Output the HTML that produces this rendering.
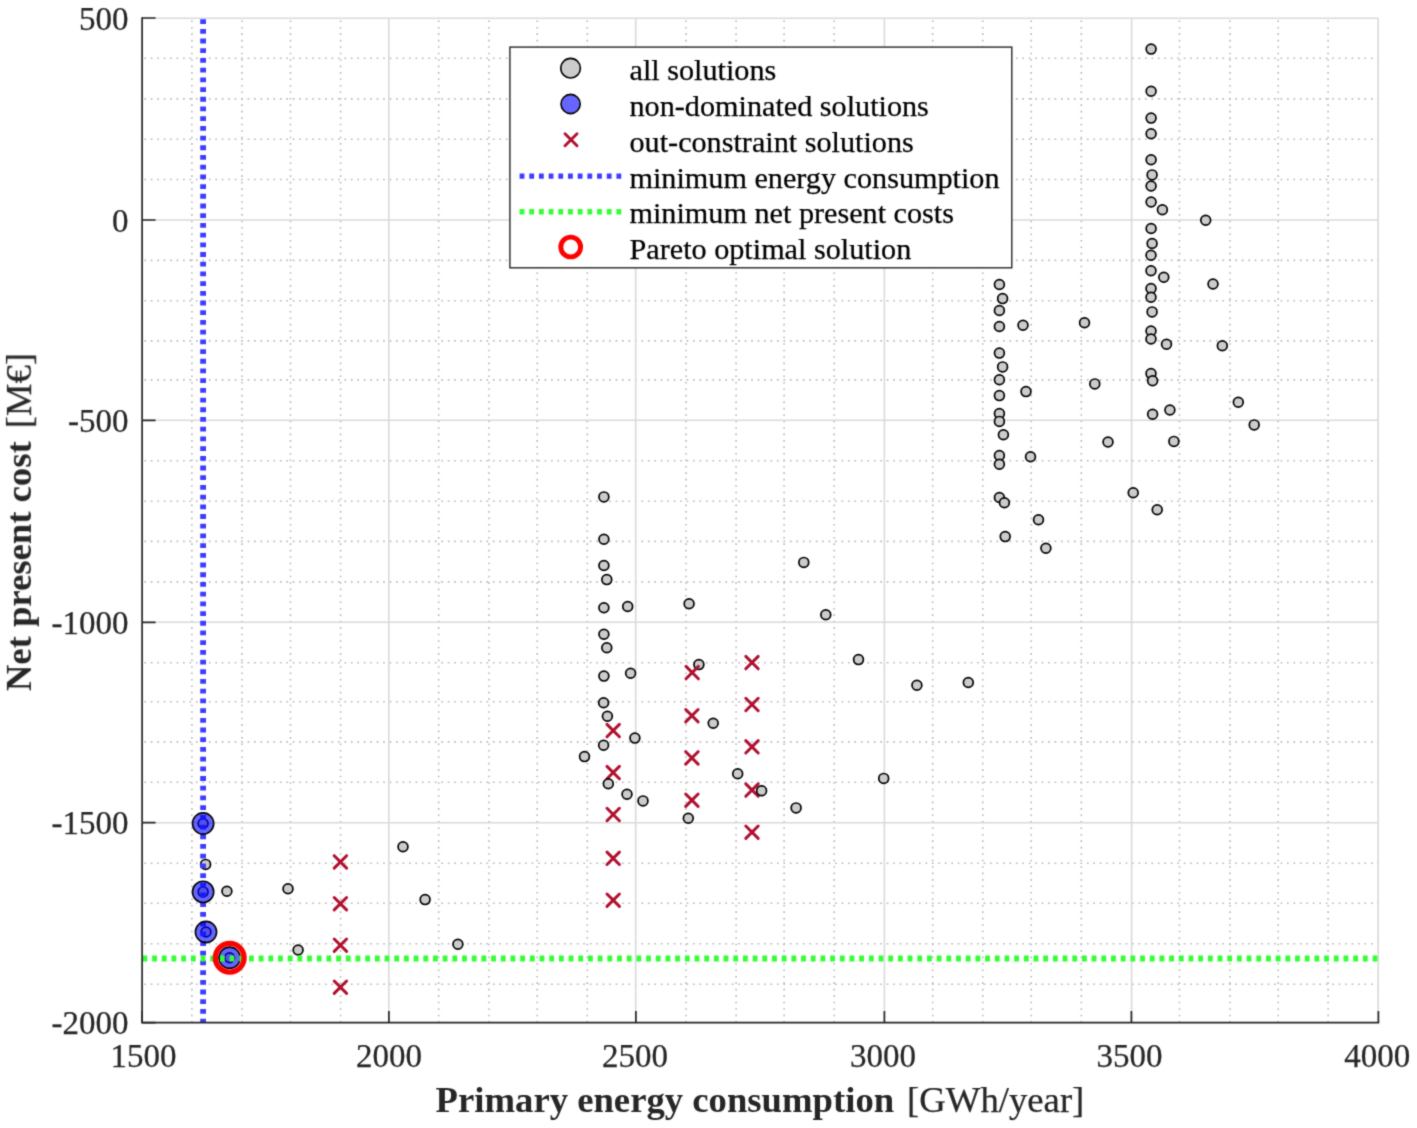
<!DOCTYPE html><html><head><meta charset="utf-8"><style>
html,body{margin:0;padding:0;background:#fff;}
body{width:1417px;height:1128px;overflow:hidden;position:relative;}
svg{position:absolute;left:0;top:0;}
text{font-family:"Liberation Serif",serif;fill:#262626;stroke:#262626;stroke-width:0.25px;}
text.b{stroke-width:0;}
text.lg{fill:#000;stroke:#000;}
</style></head><body>
<svg width="1417" height="1128" viewBox="0 0 1417 1128">
<defs><filter id="soft" filterUnits="userSpaceOnUse" x="0" y="0" width="1417" height="1128" color-interpolation-filters="sRGB"><feConvolveMatrix order="3" kernelMatrix="0.03 0.1 0.03 0.1 0.48 0.1 0.03 0.1 0.03" edgeMode="duplicate"/></filter></defs>
<g filter="url(#soft)"><rect x="0" y="0" width="1417" height="1128" fill="#fff"/>
<path d="M191.90 1022.70V18.00M242.00 1022.70V18.00M290.50 1022.70V18.00M340.60 1022.70V18.00M438.70 1022.70V18.00M489.00 1022.70V18.00M537.20 1022.70V18.00M587.30 1022.70V18.00M686.00 1022.70V18.00M736.10 1022.70V18.00M784.10 1022.70V18.00M834.20 1022.70V18.00M932.70 1022.70V18.00M982.80 1022.70V18.00M1031.20 1022.70V18.00M1081.30 1022.70V18.00M1179.50 1022.70V18.00M1230.00 1022.70V18.00M1278.20 1022.70V18.00M1328.10 1022.70V18.00" stroke="#b8b8b8" stroke-width="1.6" stroke-dasharray="1.6 4.856" fill="none"/>
<path d="M142.10 58.20H1378.40M142.10 98.90H1378.40M142.10 139.30H1378.40M142.10 179.50H1378.40M142.10 260.40H1378.40M142.10 300.80H1378.40M142.10 340.90H1378.40M142.10 379.90H1378.40M142.10 460.80H1378.40M142.10 501.20H1378.40M142.10 541.40H1378.40M142.10 581.90H1378.40M142.10 662.80H1378.40M142.10 701.80H1378.40M142.10 741.90H1378.40M142.10 782.30H1378.40M142.10 863.20H1378.40M142.10 903.20H1378.40M142.10 943.80H1378.40M142.10 984.30H1378.40" stroke="#b8b8b8" stroke-width="1.6" stroke-dasharray="1.6 4.856" stroke-dashoffset="4.216" fill="none"/>
<path d="M388.80 1022.70V18.00M635.70 1022.70V18.00M884.40 1022.70V18.00M1131.60 1022.70V18.00M1378.20 1022.70V18.00M142.10 18.20H1378.40M142.10 220.00H1378.40M142.10 420.30H1378.40M142.10 622.30H1378.40M142.10 822.70H1378.40" stroke="#dadada" stroke-width="1.6" fill="none"/>
<circle cx="205.6" cy="864.4" r="4.90" fill="#cccccc" stroke="#000" stroke-width="1.70"/>
<circle cx="226.9" cy="891.2" r="4.90" fill="#cccccc" stroke="#000" stroke-width="1.70"/>
<circle cx="288.0" cy="888.8" r="4.90" fill="#cccccc" stroke="#000" stroke-width="1.70"/>
<circle cx="298.1" cy="950.0" r="4.90" fill="#cccccc" stroke="#000" stroke-width="1.70"/>
<circle cx="403.0" cy="846.8" r="4.90" fill="#cccccc" stroke="#000" stroke-width="1.70"/>
<circle cx="425.1" cy="899.6" r="4.90" fill="#cccccc" stroke="#000" stroke-width="1.70"/>
<circle cx="457.9" cy="944.2" r="4.90" fill="#cccccc" stroke="#000" stroke-width="1.70"/>
<circle cx="203.1" cy="823.5" r="4.90" fill="#cccccc" stroke="#000" stroke-width="1.70"/>
<circle cx="203.1" cy="891.9" r="4.90" fill="#cccccc" stroke="#000" stroke-width="1.70"/>
<circle cx="206.0" cy="932.0" r="4.90" fill="#cccccc" stroke="#000" stroke-width="1.70"/>
<circle cx="229.6" cy="957.7" r="4.90" fill="#cccccc" stroke="#000" stroke-width="1.70"/>
<circle cx="603.9" cy="496.9" r="4.90" fill="#cccccc" stroke="#000" stroke-width="1.70"/>
<circle cx="603.9" cy="539.2" r="4.90" fill="#cccccc" stroke="#000" stroke-width="1.70"/>
<circle cx="603.9" cy="565.5" r="4.90" fill="#cccccc" stroke="#000" stroke-width="1.70"/>
<circle cx="606.8" cy="579.6" r="4.90" fill="#cccccc" stroke="#000" stroke-width="1.70"/>
<circle cx="603.9" cy="607.8" r="4.90" fill="#cccccc" stroke="#000" stroke-width="1.70"/>
<circle cx="627.7" cy="606.5" r="4.90" fill="#cccccc" stroke="#000" stroke-width="1.70"/>
<circle cx="689.1" cy="603.7" r="4.90" fill="#cccccc" stroke="#000" stroke-width="1.70"/>
<circle cx="603.9" cy="634.2" r="4.90" fill="#cccccc" stroke="#000" stroke-width="1.70"/>
<circle cx="606.8" cy="647.8" r="4.90" fill="#cccccc" stroke="#000" stroke-width="1.70"/>
<circle cx="698.9" cy="664.6" r="4.90" fill="#cccccc" stroke="#000" stroke-width="1.70"/>
<circle cx="603.9" cy="676.1" r="4.90" fill="#cccccc" stroke="#000" stroke-width="1.70"/>
<circle cx="630.6" cy="673.2" r="4.90" fill="#cccccc" stroke="#000" stroke-width="1.70"/>
<circle cx="603.6" cy="702.8" r="4.90" fill="#cccccc" stroke="#000" stroke-width="1.70"/>
<circle cx="607.4" cy="716.2" r="4.90" fill="#cccccc" stroke="#000" stroke-width="1.70"/>
<circle cx="634.9" cy="738.1" r="4.90" fill="#cccccc" stroke="#000" stroke-width="1.70"/>
<circle cx="603.6" cy="745.3" r="4.90" fill="#cccccc" stroke="#000" stroke-width="1.70"/>
<circle cx="584.5" cy="756.6" r="4.90" fill="#cccccc" stroke="#000" stroke-width="1.70"/>
<circle cx="627.0" cy="794.3" r="4.90" fill="#cccccc" stroke="#000" stroke-width="1.70"/>
<circle cx="643.0" cy="800.9" r="4.90" fill="#cccccc" stroke="#000" stroke-width="1.70"/>
<circle cx="688.3" cy="818.3" r="4.90" fill="#cccccc" stroke="#000" stroke-width="1.70"/>
<circle cx="713.2" cy="723.2" r="4.90" fill="#cccccc" stroke="#000" stroke-width="1.70"/>
<circle cx="737.7" cy="773.8" r="4.90" fill="#cccccc" stroke="#000" stroke-width="1.70"/>
<circle cx="796.1" cy="807.9" r="4.90" fill="#cccccc" stroke="#000" stroke-width="1.70"/>
<circle cx="803.8" cy="562.4" r="4.90" fill="#cccccc" stroke="#000" stroke-width="1.70"/>
<circle cx="825.8" cy="614.7" r="4.90" fill="#cccccc" stroke="#000" stroke-width="1.70"/>
<circle cx="858.5" cy="659.6" r="4.90" fill="#cccccc" stroke="#000" stroke-width="1.70"/>
<circle cx="916.9" cy="685.3" r="4.90" fill="#cccccc" stroke="#000" stroke-width="1.70"/>
<circle cx="968.3" cy="682.5" r="4.90" fill="#cccccc" stroke="#000" stroke-width="1.70"/>
<circle cx="883.7" cy="778.4" r="4.90" fill="#cccccc" stroke="#000" stroke-width="1.70"/>
<circle cx="999.4" cy="284.5" r="4.90" fill="#cccccc" stroke="#000" stroke-width="1.70"/>
<circle cx="1002.6" cy="298.6" r="4.90" fill="#cccccc" stroke="#000" stroke-width="1.70"/>
<circle cx="999.4" cy="310.5" r="4.90" fill="#cccccc" stroke="#000" stroke-width="1.70"/>
<circle cx="999.4" cy="326.5" r="4.90" fill="#cccccc" stroke="#000" stroke-width="1.70"/>
<circle cx="1023.0" cy="325.2" r="4.90" fill="#cccccc" stroke="#000" stroke-width="1.70"/>
<circle cx="1084.5" cy="322.8" r="4.90" fill="#cccccc" stroke="#000" stroke-width="1.70"/>
<circle cx="999.4" cy="353.1" r="4.90" fill="#cccccc" stroke="#000" stroke-width="1.70"/>
<circle cx="1002.6" cy="366.9" r="4.90" fill="#cccccc" stroke="#000" stroke-width="1.70"/>
<circle cx="999.4" cy="379.7" r="4.90" fill="#cccccc" stroke="#000" stroke-width="1.70"/>
<circle cx="1094.8" cy="383.9" r="4.90" fill="#cccccc" stroke="#000" stroke-width="1.70"/>
<circle cx="1026.0" cy="391.6" r="4.90" fill="#cccccc" stroke="#000" stroke-width="1.70"/>
<circle cx="999.4" cy="395.6" r="4.90" fill="#cccccc" stroke="#000" stroke-width="1.70"/>
<circle cx="999.4" cy="413.5" r="4.90" fill="#cccccc" stroke="#000" stroke-width="1.70"/>
<circle cx="999.4" cy="421.4" r="4.90" fill="#cccccc" stroke="#000" stroke-width="1.70"/>
<circle cx="1003.4" cy="434.7" r="4.90" fill="#cccccc" stroke="#000" stroke-width="1.70"/>
<circle cx="999.4" cy="455.5" r="4.90" fill="#cccccc" stroke="#000" stroke-width="1.70"/>
<circle cx="1030.5" cy="456.8" r="4.90" fill="#cccccc" stroke="#000" stroke-width="1.70"/>
<circle cx="999.4" cy="464.3" r="4.90" fill="#cccccc" stroke="#000" stroke-width="1.70"/>
<circle cx="999.4" cy="497.5" r="4.90" fill="#cccccc" stroke="#000" stroke-width="1.70"/>
<circle cx="1004.4" cy="502.8" r="4.90" fill="#cccccc" stroke="#000" stroke-width="1.70"/>
<circle cx="1038.5" cy="519.8" r="4.90" fill="#cccccc" stroke="#000" stroke-width="1.70"/>
<circle cx="1005.2" cy="536.6" r="4.90" fill="#cccccc" stroke="#000" stroke-width="1.70"/>
<circle cx="1045.9" cy="548.3" r="4.90" fill="#cccccc" stroke="#000" stroke-width="1.70"/>
<circle cx="1151.1" cy="49.1" r="4.90" fill="#cccccc" stroke="#000" stroke-width="1.70"/>
<circle cx="1151.1" cy="91.2" r="4.90" fill="#cccccc" stroke="#000" stroke-width="1.70"/>
<circle cx="1151.1" cy="118.1" r="4.90" fill="#cccccc" stroke="#000" stroke-width="1.70"/>
<circle cx="1151.1" cy="133.7" r="4.90" fill="#cccccc" stroke="#000" stroke-width="1.70"/>
<circle cx="1151.1" cy="159.7" r="4.90" fill="#cccccc" stroke="#000" stroke-width="1.70"/>
<circle cx="1152.1" cy="174.9" r="4.90" fill="#cccccc" stroke="#000" stroke-width="1.70"/>
<circle cx="1151.1" cy="186.0" r="4.90" fill="#cccccc" stroke="#000" stroke-width="1.70"/>
<circle cx="1151.1" cy="202.0" r="4.90" fill="#cccccc" stroke="#000" stroke-width="1.70"/>
<circle cx="1162.4" cy="209.8" r="4.90" fill="#cccccc" stroke="#000" stroke-width="1.70"/>
<circle cx="1205.7" cy="220.3" r="4.90" fill="#cccccc" stroke="#000" stroke-width="1.70"/>
<circle cx="1151.1" cy="228.5" r="4.90" fill="#cccccc" stroke="#000" stroke-width="1.70"/>
<circle cx="1152.1" cy="243.5" r="4.90" fill="#cccccc" stroke="#000" stroke-width="1.70"/>
<circle cx="1151.0" cy="255.3" r="4.90" fill="#cccccc" stroke="#000" stroke-width="1.70"/>
<circle cx="1151.0" cy="270.7" r="4.90" fill="#cccccc" stroke="#000" stroke-width="1.70"/>
<circle cx="1163.8" cy="277.3" r="4.90" fill="#cccccc" stroke="#000" stroke-width="1.70"/>
<circle cx="1213.0" cy="284.0" r="4.90" fill="#cccccc" stroke="#000" stroke-width="1.70"/>
<circle cx="1151.0" cy="288.5" r="4.90" fill="#cccccc" stroke="#000" stroke-width="1.70"/>
<circle cx="1151.0" cy="297.3" r="4.90" fill="#cccccc" stroke="#000" stroke-width="1.70"/>
<circle cx="1152.1" cy="311.9" r="4.90" fill="#cccccc" stroke="#000" stroke-width="1.70"/>
<circle cx="1151.0" cy="331.0" r="4.90" fill="#cccccc" stroke="#000" stroke-width="1.70"/>
<circle cx="1151.0" cy="339.0" r="4.90" fill="#cccccc" stroke="#000" stroke-width="1.70"/>
<circle cx="1166.5" cy="344.3" r="4.90" fill="#cccccc" stroke="#000" stroke-width="1.70"/>
<circle cx="1222.3" cy="345.7" r="4.90" fill="#cccccc" stroke="#000" stroke-width="1.70"/>
<circle cx="1151.0" cy="373.6" r="4.90" fill="#cccccc" stroke="#000" stroke-width="1.70"/>
<circle cx="1152.6" cy="380.8" r="4.90" fill="#cccccc" stroke="#000" stroke-width="1.70"/>
<circle cx="1238.3" cy="402.3" r="4.90" fill="#cccccc" stroke="#000" stroke-width="1.70"/>
<circle cx="1169.9" cy="410.0" r="4.90" fill="#cccccc" stroke="#000" stroke-width="1.70"/>
<circle cx="1152.6" cy="414.3" r="4.90" fill="#cccccc" stroke="#000" stroke-width="1.70"/>
<circle cx="1254.2" cy="424.9" r="4.90" fill="#cccccc" stroke="#000" stroke-width="1.70"/>
<circle cx="1108.0" cy="442.0" r="4.90" fill="#cccccc" stroke="#000" stroke-width="1.70"/>
<circle cx="1173.9" cy="441.4" r="4.90" fill="#cccccc" stroke="#000" stroke-width="1.70"/>
<circle cx="1133.2" cy="492.7" r="4.90" fill="#cccccc" stroke="#000" stroke-width="1.70"/>
<circle cx="1157.2" cy="509.7" r="4.90" fill="#cccccc" stroke="#000" stroke-width="1.70"/>
<path d="M334.20 855.70L346.60 868.10M334.20 868.10L346.60 855.70" stroke="#b0102e" stroke-width="3.00" stroke-linecap="round" fill="none"/>
<path d="M334.20 897.50L346.60 909.90M334.20 909.90L346.60 897.50" stroke="#b0102e" stroke-width="3.00" stroke-linecap="round" fill="none"/>
<path d="M334.20 939.00L346.60 951.40M334.20 951.40L346.60 939.00" stroke="#b0102e" stroke-width="3.00" stroke-linecap="round" fill="none"/>
<path d="M334.20 981.00L346.60 993.40M334.20 993.40L346.60 981.00" stroke="#b0102e" stroke-width="3.00" stroke-linecap="round" fill="none"/>
<path d="M607.00 724.40L619.40 736.80M607.00 736.80L619.40 724.40" stroke="#b0102e" stroke-width="3.00" stroke-linecap="round" fill="none"/>
<path d="M607.00 766.40L619.40 778.80M607.00 778.80L619.40 766.40" stroke="#b0102e" stroke-width="3.00" stroke-linecap="round" fill="none"/>
<path d="M607.00 808.30L619.40 820.70M607.00 820.70L619.40 808.30" stroke="#b0102e" stroke-width="3.00" stroke-linecap="round" fill="none"/>
<path d="M607.00 852.10L619.40 864.50M607.00 864.50L619.40 852.10" stroke="#b0102e" stroke-width="3.00" stroke-linecap="round" fill="none"/>
<path d="M607.00 894.00L619.40 906.40M607.00 906.40L619.40 894.00" stroke="#b0102e" stroke-width="3.00" stroke-linecap="round" fill="none"/>
<path d="M686.00 666.40L698.40 678.80M686.00 678.80L698.40 666.40" stroke="#b0102e" stroke-width="3.00" stroke-linecap="round" fill="none"/>
<path d="M685.70 709.50L698.10 721.90M685.70 721.90L698.10 709.50" stroke="#b0102e" stroke-width="3.00" stroke-linecap="round" fill="none"/>
<path d="M685.70 751.70L698.10 764.10M685.70 764.10L698.10 751.70" stroke="#b0102e" stroke-width="3.00" stroke-linecap="round" fill="none"/>
<path d="M685.70 794.00L698.10 806.40M685.70 806.40L698.10 794.00" stroke="#b0102e" stroke-width="3.00" stroke-linecap="round" fill="none"/>
<path d="M745.80 656.40L758.20 668.80M745.80 668.80L758.20 656.40" stroke="#b0102e" stroke-width="3.00" stroke-linecap="round" fill="none"/>
<path d="M745.80 698.30L758.20 710.70M745.80 710.70L758.20 698.30" stroke="#b0102e" stroke-width="3.00" stroke-linecap="round" fill="none"/>
<path d="M745.80 740.60L758.20 753.00M745.80 753.00L758.20 740.60" stroke="#b0102e" stroke-width="3.00" stroke-linecap="round" fill="none"/>
<path d="M745.80 783.90L758.20 796.30M745.80 796.30L758.20 783.90" stroke="#b0102e" stroke-width="3.00" stroke-linecap="round" fill="none"/>
<path d="M745.80 826.00L758.20 838.40M745.80 838.40L758.20 826.00" stroke="#b0102e" stroke-width="3.00" stroke-linecap="round" fill="none"/>
<circle cx="761.6" cy="790.8" r="4.90" fill="#cccccc" stroke="#000" stroke-width="1.70"/>
<circle cx="608.3" cy="783.8" r="4.90" fill="#cccccc" stroke="#000" stroke-width="1.70"/>
<path d="M203.10 19.20V1022.70" stroke="#3c3cff" stroke-width="5.8" stroke-dasharray="4.8 4.904" fill="none"/>
<circle cx="203.1" cy="823.5" r="10.6" fill="rgba(0,0,255,0.6)" stroke="#000" stroke-width="1.6"/>
<circle cx="203.1" cy="891.9" r="10.6" fill="rgba(0,0,255,0.6)" stroke="#000" stroke-width="1.6"/>
<circle cx="206.0" cy="932.0" r="10.6" fill="rgba(0,0,255,0.6)" stroke="#000" stroke-width="1.6"/>
<circle cx="229.6" cy="957.7" r="10.6" fill="rgba(0,0,255,0.6)" stroke="#000" stroke-width="1.6"/>
<path d="M142.45 958.50H1378.40" stroke="#33ff33" stroke-width="5.8" stroke-dasharray="4.8 4.886" fill="none"/>
<circle cx="229.7" cy="957.7" r="14.4" fill="none" stroke="#ff0000" stroke-width="5.3"/>
<path d="M142.10 18.00V1022.70H1378.40" stroke="#262626" stroke-width="1.7" fill="none" stroke-linecap="square"/>
<path d="M142.10 1022.70H155.60M142.10 822.70H155.60M142.10 622.30H155.60M142.10 420.40H155.60M142.10 220.00H155.60M142.10 18.00H155.60M142.10 1022.70V1010.90M388.90 1022.70V1010.90M635.90 1022.70V1010.90M884.40 1022.70V1010.90M1131.40 1022.70V1010.90M1378.40 1022.70V1010.90" stroke="#262626" stroke-width="1.7" fill="none"/>
<text x="128.6" y="1034.2" font-size="33" text-anchor="end">-2000</text>
<text x="128.6" y="834.2" font-size="33" text-anchor="end">-1500</text>
<text x="128.6" y="633.8" font-size="33" text-anchor="end">-1000</text>
<text x="128.6" y="431.9" font-size="33" text-anchor="end">-500</text>
<text x="128.6" y="231.5" font-size="33" text-anchor="end">0</text>
<text x="128.6" y="29.5" font-size="33" text-anchor="end">500</text>
<text x="143.40" y="1067.3" font-size="33" text-anchor="middle">1500</text>
<text x="388.90" y="1067.3" font-size="33" text-anchor="middle">2000</text>
<text x="635.10" y="1067.3" font-size="33" text-anchor="middle">2500</text>
<text x="882.95" y="1067.3" font-size="33" text-anchor="middle">3000</text>
<text x="1129.45" y="1067.3" font-size="33" text-anchor="middle">3500</text>
<text x="1377.20" y="1067.3" font-size="33" text-anchor="middle">4000</text>
<text x="435.6" y="1112.3" font-size="36.7" font-weight="bold" class="b">Primary energy consumption</text>
<text x="907.1" y="1112.3" font-size="36.7">[GWh/year]</text>
<g transform="translate(30.9,691.2) rotate(-90)"><text x="0" y="0" font-size="36.7" font-weight="bold" class="b">Net present cost</text><text x="262.9" y="0" font-size="36.7">[M&#8364;]</text></g>
<rect x="509.9" y="47.1" width="501.9" height="220.7" fill="#fff" stroke="#262626" stroke-width="1.4"/>
<circle cx="570.6" cy="68.2" r="9.80" fill="#cccccc" stroke="#000" stroke-width="1.60"/>
<circle cx="570.6" cy="104.0" r="9.6" fill="rgba(0,0,255,0.6)" stroke="#000" stroke-width="1.6"/>
<path d="M565.00 133.72L577.00 145.72M565.00 145.72L577.00 133.72" stroke="#b0102e" stroke-width="2.90" stroke-linecap="round" fill="none"/>
<path d="M519.6 176.1H622" stroke="#3c3cff" stroke-width="5.4" stroke-dasharray="4.8 4.886" fill="none"/>
<path d="M519.6 211.8H622" stroke="#33ff33" stroke-width="5.4" stroke-dasharray="4.8 4.886" fill="none"/>
<circle cx="570.7" cy="247.0" r="9.9" fill="none" stroke="#ff0000" stroke-width="4.9"/>
<text x="629.5" y="80.2" font-size="30.2" class="lg">all solutions</text>
<text x="629.5" y="116.0" font-size="30.2" class="lg">non-dominated solutions</text>
<text x="629.5" y="151.7" font-size="30.2" class="lg">out-constraint solutions</text>
<text x="629.5" y="187.5" font-size="30.2" class="lg">minimum energy consumption</text>
<text x="629.5" y="223.2" font-size="30.2" class="lg">minimum net present costs</text>
<text x="629.5" y="259.0" font-size="30.2" class="lg">Pareto optimal solution</text>
</g></svg></body></html>
